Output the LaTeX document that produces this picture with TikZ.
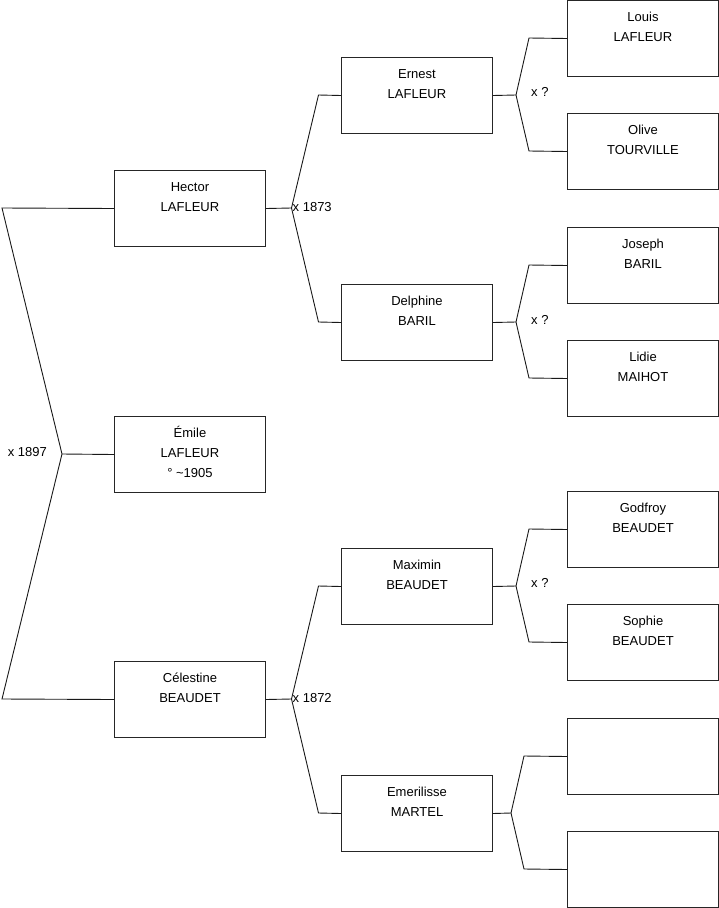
\documentclass[tikz,border=0pt]{standalone}
\usepackage{fontspec}
\setmainfont{Liberation Sans}
\newcommand{\threel}[3]{\strut#1\\\strut#2\\\strut\rule[-9pt]{0pt}{9pt}#3}
\begin{document}
\begin{tikzpicture}[x=1pt,y=-1pt,
  pbox/.style={draw=black!85, line width=1pt, minimum width=151pt, minimum height=76pt,
    inner sep=0pt, align=center, font=\fontsize{13}{20}\selectfont, anchor=north west},
  conn/.style={draw=black!90, line width=0.9pt},
  lbl/.style={font=\fontsize{13}{15}\selectfont, inner sep=0pt}]
\useasboundingbox (0,0) rectangle (719,908);
% generation 1
\node[pbox] (hector) at (114,170) {\threel{Hector}{LAFLEUR}{}};
\node[pbox] (emile) at (114,416) {\threel{Émile}{LAFLEUR}{° \textasciitilde1905}};
\node[pbox] (celestine) at (114,661) {\threel{Célestine}{BEAUDET}{}};
% generation 2
\node[pbox] (ernest) at (341,57) {\threel{Ernest}{LAFLEUR}{}};
\node[pbox] (delphine) at (341,284) {\threel{Delphine}{BARIL}{}};
\node[pbox] (maximin) at (341,548) {\threel{Maximin}{BEAUDET}{}};
\node[pbox] (emerilisse) at (341,775) {\threel{Emerilisse}{MARTEL}{}};
% generation 3
\node[pbox] (louis) at (567,0) {\threel{Louis}{LAFLEUR}{}};
\node[pbox] (olive) at (567,113) {\threel{Olive}{TOURVILLE}{}};
\node[pbox] (joseph) at (567,227) {\threel{Joseph}{BARIL}{}};
\node[pbox] (lidie) at (567,340) {\threel{Lidie}{MAIHOT}{}};
\node[pbox] (godfroy) at (567,491) {\threel{Godfroy}{BEAUDET}{}};
\node[pbox] (sophie) at (567,604) {\threel{Sophie}{BEAUDET}{}};
\node[pbox] (empA) at (567,718) {};
\node[pbox] (empB) at (567,831) {};

% left connector
\coordinate (lt) at (2,208);
\coordinate (lv) at (62,454);
\coordinate (lb) at (2,699);
\draw[conn] (hector.west) -- (lt) -- (lv) -- (lb) -- (celestine.west);
\draw[conn] (lv) -- (emile.west);
\node[lbl, anchor=east] (m1897) at (47,452) {x 1897};

% Hector
\coordinate (hv) at (291.5,208);
\coordinate (ht) at (318.5,95);
\coordinate (hb) at (318.5,322);
\draw[conn] (hector.east) -- (hv);
\draw[conn] (hv) -- (ht) -- (ernest.west);
\draw[conn] (hv) -- (hb) -- (delphine.west);
\node[lbl, anchor=west] (m1873) at (292.5,207) {x 1873};

% Celestine
\coordinate (cv) at (291.5,699);
\coordinate (ct) at (318.5,586);
\coordinate (cb) at (318.5,813);
\draw[conn] (celestine.east) -- (cv);
\draw[conn] (cv) -- (ct) -- (maximin.west);
\draw[conn] (cv) -- (cb) -- (emerilisse.west);
\node[lbl, anchor=west] (m1872) at (292.5,698) {x 1872};

% Ernest
\coordinate (ev) at (516,95);
\coordinate (et) at (529,38);
\coordinate (eb) at (529,151);
\draw[conn] (ernest.east) -- (ev);
\draw[conn] (ev) -- (et) -- (louis.west);
\draw[conn] (ev) -- (eb) -- (olive.west);
\node[lbl, anchor=west] (mE) at (531,92) {x ?};

% Delphine
\coordinate (dv) at (516,322);
\coordinate (dt) at (529,265);
\coordinate (db) at (529,378);
\draw[conn] (delphine.east) -- (dv);
\draw[conn] (dv) -- (dt) -- (joseph.west);
\draw[conn] (dv) -- (db) -- (lidie.west);
\node[lbl, anchor=west] (mD) at (531,320) {x ?};

% Maximin
\coordinate (mv) at (516,586);
\coordinate (mt) at (529,529);
\coordinate (mb) at (529,642);
\draw[conn] (maximin.east) -- (mv);
\draw[conn] (mv) -- (mt) -- (godfroy.west);
\draw[conn] (mv) -- (mb) -- (sophie.west);
\node[lbl, anchor=west] (mM) at (531,583) {x ?};

% Emerilisse
\coordinate (rv) at (511,813);
\coordinate (rt) at (524,756);
\coordinate (rb) at (524,869);
\draw[conn] (emerilisse.east) -- (rv);
\draw[conn] (rv) -- (rt) -- (empA.west);
\draw[conn] (rv) -- (rb) -- (empB.west);
\end{tikzpicture}
\end{document}
